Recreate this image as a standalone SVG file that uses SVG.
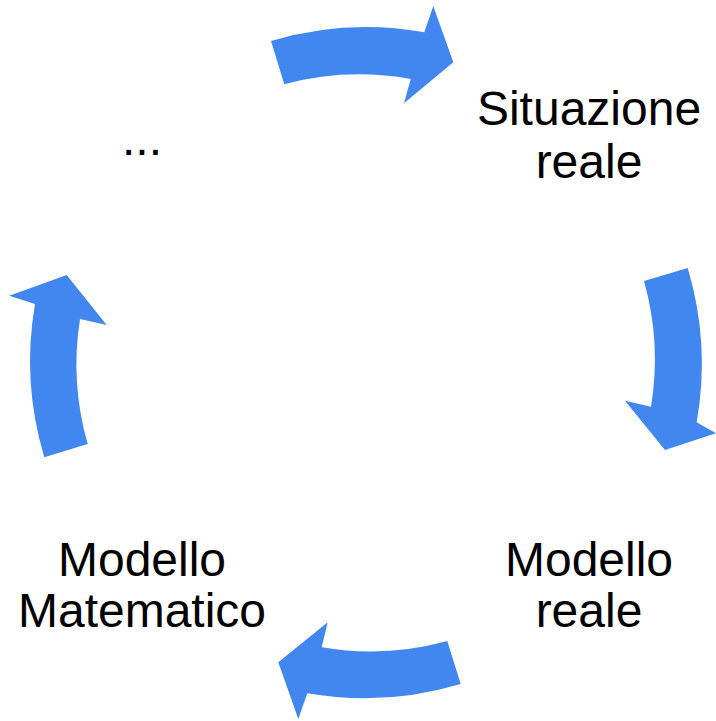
<svg xmlns="http://www.w3.org/2000/svg" width="716" height="721" viewBox="0 0 716 721">
  <style>
    .arrow { fill: #4287f0; stroke: none; }
    .label { font-family: "Liberation Sans", Arial, sans-serif; font-size: 48px; fill: #000; text-anchor: middle; }
  </style>
  <rect width="716" height="721" fill="#fff"/>

  <!-- curved block arrows around a ring centred at (366,362), outer r 335, inner r 290 -->
  <g id="connectors">
    <path id="arrow-top" class="arrow"
      d="M271,41 A335,335 0 0 1 424.3,32.3 L433.3,6 L453.3,62.3 L404,103.3 L410.7,79 A290,290 0 0 0 284.3,84.3 Z"/>
    <path id="arrow-right" class="arrow"
      d="M687.7,268 A335,335 0 0 1 696.7,422.3 L716,433.3 L665,450 L625,400.7 L651,406.7 A290,290 0 0 0 644,281 Z"/>
    <path id="arrow-bottom" class="arrow"
      d="M460.7,684 A335,335 0 0 1 307.3,693.3 L298.3,719 L278.3,662.3 L327.7,622.3 L321.7,647.3 A290,290 0 0 0 447.3,641 Z"/>
    <path id="arrow-left" class="arrow"
      d="M44.3,457.3 A335,335 0 0 1 35,304 L9.3,295.7 L66.7,275 L106.7,325 L80,319 A290,290 0 0 0 87.7,444 Z"/>
  </g>

  <g id="node-situazione-reale">
    <text class="label" x="589" y="125">Situazione</text>
    <text class="label" x="589" y="178">reale</text>
  </g>
  <g id="node-modello-reale">
    <text class="label" x="589" y="576">Modello</text>
    <text class="label" x="589" y="627">reale</text>
  </g>
  <g id="node-modello-matematico">
    <text class="label" x="142" y="576">Modello</text>
    <text class="label" x="142" y="627">Matematico</text>
  </g>
  <g id="node-ellipsis">
    <text class="label" x="142" y="155">...</text>
  </g>
</svg>
